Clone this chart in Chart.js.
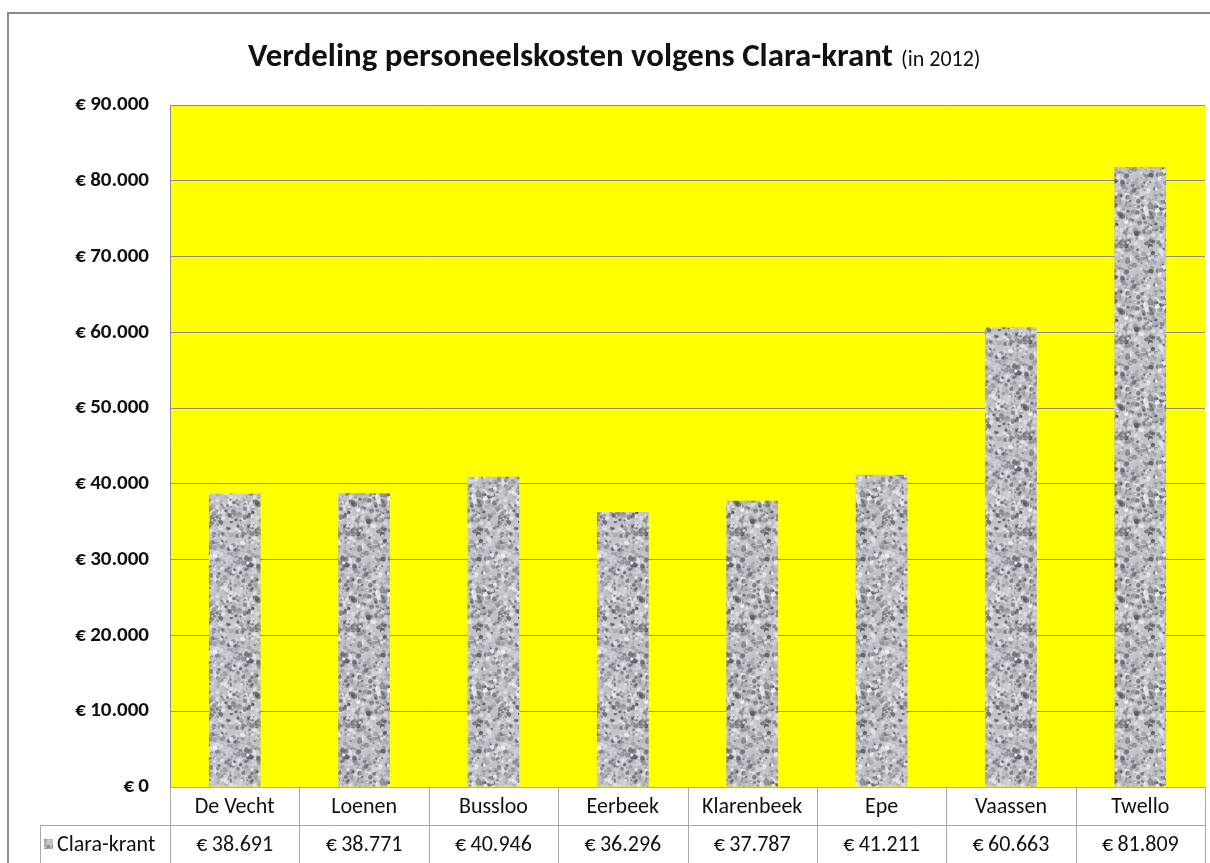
<!DOCTYPE html>
<html>
<head>
<meta charset="utf-8">
<script src="https://cdn.jsdelivr.net/npm/chart.js@4.4.1/dist/chart.umd.min.js"></script>
<style>
  html, body { margin: 0; padding: 0; background: #fff; }
  #wrap { width: 1210px; height: 863px; position: relative; }
</style>
</head>
<body>
<div id="wrap"><canvas id="chart"></canvas></div>
<script>
// Data
const CATEGORIES = ["De Vecht", "Loenen", "Bussloo", "Eerbeek", "Klarenbeek", "Epe", "Vaassen", "Twello"];
const SERIES_NAME = "Clara-krant";
const VALUES = [38691, 38771, 40946, 36296, 37787, 41211, 60663, 81809];
const Y_MIN = 0;
const Y_MAX = 90000;
const Y_STEP = 10000;
const TITLE = "Verdeling personeelskosten volgens Clara-krant";
const SUBTITLE = "(in 2012)";

const FONT = "Carlito, Calibri, Lato, 'Open Sans', sans-serif";
const GRID = "#8c8c8c";
const TABLE_LINE = "#a8a8a8";

function formatEUR(v) {
  return "€\u2009" + String(v).replace(/\B(?=(\d{3})+(?!\d))/g, ".");
}

// granieten vulling voor de staven
function mulberry32(a) {
  return function () {
    a |= 0; a = a + 0x6D2B79F5 | 0;
    let t = Math.imul(a ^ a >>> 15, 1 | a);
    t = t + Math.imul(t ^ t >>> 7, 61 | t) ^ t;
    return ((t ^ t >>> 14) >>> 0) / 4294967296;
  };
}

function makeGranite() {
  const S = 96;
  const raw = document.createElement("canvas");
  raw.width = S; raw.height = S;
  const g = raw.getContext("2d");
  g.fillStyle = "#c2c2c8";
  g.fillRect(0, 0, S, S);
  const rnd = mulberry32(20120);
  const shades = ["#55555c", "#6e6e76", "#8e8e96", "#a8a8b0", "#e2e2e8", "#f2f2f6", "#d6d6dc"];
  for (let i = 0; i < 1100; i++) {
    const x = rnd() * S, y = rnd() * S, r = 0.7 + rnd() * 1.9;
    g.fillStyle = shades[Math.floor(rnd() * shades.length)];
    g.globalAlpha = 0.35 + rnd() * 0.55;
    for (const dx of [-S, 0, S]) {
      for (const dy of [-S, 0, S]) {
        g.beginPath();
        g.arc(x + dx, y + dy, r, 0, Math.PI * 2);
        g.fill();
      }
    }
  }
  const out = document.createElement("canvas");
  out.width = S; out.height = S;
  const o = out.getContext("2d");
  o.filter = "blur(0.5px)";
  o.drawImage(raw, 0, 0);
  return out;
}

const graniteCanvas = makeGranite();
const granite = document.getElementById("chart").getContext("2d").createPattern(graniteCanvas, "repeat");

const frameAndTable = {
  id: "frameAndTable",
  beforeDraw(chart) {
    const { ctx, chartArea: a } = chart;
    ctx.save();
    ctx.fillStyle = "#fff";
    ctx.fillRect(0, 0, chart.width, chart.height);
    // buitenrand
    ctx.strokeStyle = "#8a8a8a";
    ctx.lineWidth = 2;
    ctx.beginPath();
    ctx.moveTo(8, chart.height + 2);
    ctx.lineTo(8, 13);
    ctx.lineTo(chart.width + 2, 13);
    ctx.stroke();
    // gele plotachtergrond
    ctx.fillStyle = "#ffff00";
    ctx.fillRect(a.left, a.top, a.right - a.left, a.bottom - a.top);
    ctx.restore();
  },
  afterDraw(chart) {
    const { ctx, chartArea: a } = chart;
    const x = chart.scales.x;
    const n = CATEGORIES.length;
    const colW = (a.right - a.left) / n;
    const row1 = a.bottom, row2 = a.bottom + 38, row3 = chart.height + 2;
    const legendLeft = 40;

    ctx.save();
    ctx.strokeStyle = TABLE_LINE;
    ctx.lineWidth = 1;
    ctx.beginPath();
    ctx.moveTo(a.left, row1 + 0.5); ctx.lineTo(a.right, row1 + 0.5);
    ctx.moveTo(legendLeft, row2 + 0.5); ctx.lineTo(a.right, row2 + 0.5);
    ctx.moveTo(legendLeft + 0.5, row2); ctx.lineTo(legendLeft + 0.5, row3);
    for (let i = 0; i <= n; i++) {
      const xx = Math.round(a.left + i * colW) + 0.5;
      ctx.moveTo(xx, row1); ctx.lineTo(xx, row3);
    }
    ctx.stroke();

    ctx.fillStyle = "#111";
    ctx.font = "22px " + FONT;
    ctx.textAlign = "center";
    ctx.textBaseline = "alphabetic";
    CATEGORIES.forEach((c, i) => {
      const cx = x.getPixelForValue(i);
      ctx.fillText(c, cx, row1 + 26);
      ctx.fillText(formatEUR(VALUES[i]), cx, row2 + 26);
    });

    // legendasleutel + reeksnaam
    ctx.fillStyle = granite;
    ctx.fillRect(44, row2 + 14, 9, 10);
    ctx.fillStyle = "#111";
    ctx.textAlign = "left";
    ctx.fillText(SERIES_NAME, 57, row2 + 26);

    // titel (horizontaal iets smaller, zoals het origineel)
    ctx.font = "bold 32px " + FONT;
    const w = ctx.measureText(TITLE).width;
    const sx = 645 / w;
    ctx.save();
    ctx.translate(248, 66);
    ctx.scale(sx, 1);
    ctx.fillText(TITLE, 0, 0);
    ctx.restore();
    ctx.font = "22px " + FONT;
    ctx.fillText(SUBTITLE, 248 + 645 + 8, 66);
    ctx.restore();
  }
};

new Chart(document.getElementById("chart"), {
  type: "bar",
  data: {
    labels: CATEGORIES,
    datasets: [{
      label: SERIES_NAME,
      data: VALUES,
      backgroundColor: granite,
      borderWidth: 0,
      barPercentage: 0.4,
      categoryPercentage: 1.0
    }]
  },
  plugins: [frameAndTable],
  options: {
    responsive: true,
    maintainAspectRatio: false,
    animation: false,
    layout: { padding: { top: 105, right: 5, bottom: 76, left: 0 } },
    plugins: {
      legend: { display: false },
      title: { display: false },
      tooltip: { enabled: false }
    },
    scales: {
      x: { display: false, offset: true },
      y: {
        min: Y_MIN,
        max: Y_MAX,
        afterFit(scale) { scale.width = 170; },
        border: { display: true, color: GRID, width: 1 },
        grid: { color: GRID, lineWidth: 1, drawTicks: false },
        ticks: {
          stepSize: Y_STEP,
          padding: 21,
          color: "#111",
          font: { family: FONT, size: 21, weight: "bold" },
          callback: v => formatEUR(v)
        }
      }
    }
  }
});
</script>
</body>
</html>
